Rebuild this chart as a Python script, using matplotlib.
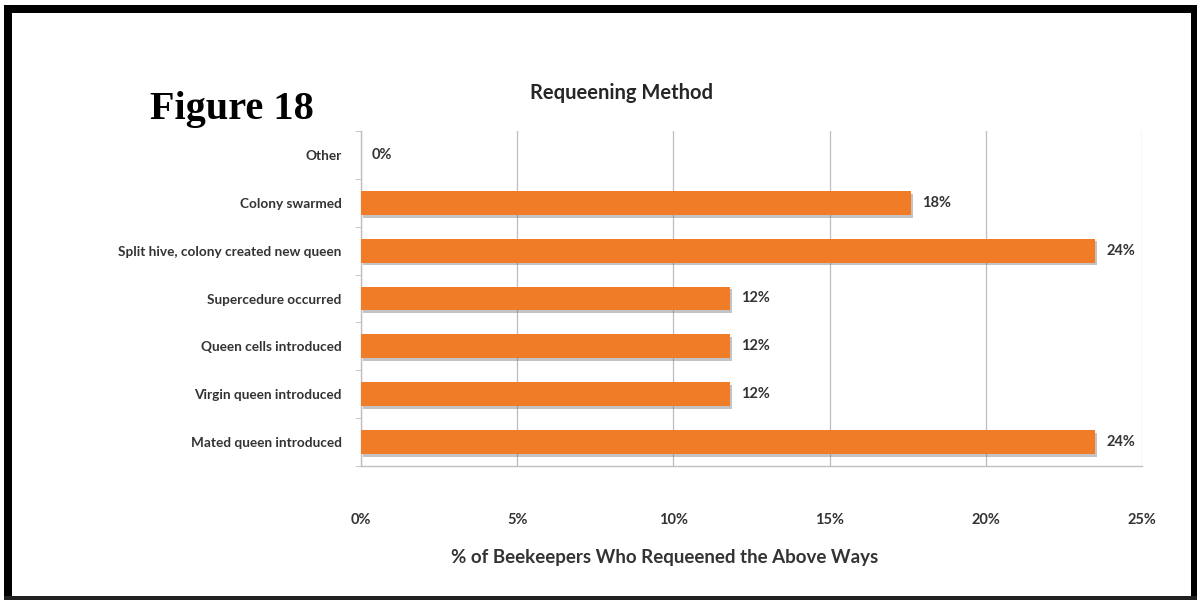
import matplotlib
matplotlib.use("Agg")
import matplotlib.pyplot as plt
from matplotlib.patches import Rectangle
from matplotlib import patheffects as pe
from matplotlib.ticker import FixedLocator, FuncFormatter

# Requeening methods, listed top to bottom
categories = [
    "Other",
    "Colony swarmed",
    "Split hive, colony created new queen",
    "Supercedure occurred",
    "Queen cells introduced",
    "Virgin queen introduced",
    "Mated queen introduced",
]
# Share of beekeepers (%) using each method
percent = [0.0, 17.6, 23.5, 11.8, 11.8, 11.8, 23.5]
x_ticks = [0, 5, 10, 15, 20, 25]

title = "Requeening Method"
figure_label = "Figure 18"
x_title = "% of Beekeepers Who Requeened the Above Ways"

W, H = 1197, 600
fig = plt.figure(figsize=(W / 100, H / 100), dpi=100)
fig.patch.set_facecolor("white")

# plot area in pixel terms
left_px, right_px, top_px, bottom_px = 361, 1142, 131, 466
ax = fig.add_axes([left_px / W, 1 - bottom_px / H,
                   (right_px - left_px) / W, (bottom_px - top_px) / H])

FONT = "Lato"
text_color = "#333333"
bar_color = "#F07C28"

n = len(categories)
ypos = list(range(n))
bars = ax.barh(ypos, percent, height=0.5, color=bar_color, zorder=3)
for b in bars:
    b.set_path_effects([pe.SimplePatchShadow(offset=(1.5, -2), shadow_rgbFace="#7a7a7a", alpha=0.45),
                        pe.Normal()])

ax.set_ylim(n - 0.5, -0.5)
ax.set_xlim(0, 25)

ax.set_yticks(ypos)
ax.set_yticklabels(categories, fontfamily=FONT, fontweight="bold", fontsize=9.8, color=text_color)
ax.yaxis.set_minor_locator(FixedLocator([i - 0.5 for i in range(n + 1)]))
ax.tick_params(axis="y", which="major", length=0, pad=14)
ax.tick_params(axis="y", which="minor", length=4, color="#BFBFBF", direction="out")

ax.xaxis.set_major_locator(FixedLocator(x_ticks))
ax.xaxis.set_major_formatter(FuncFormatter(lambda v, _: f"{v:.0f}%"))
ax.tick_params(axis="x", length=0, pad=34, labelsize=10.5, labelcolor=text_color)
for lab in ax.get_xticklabels():
    lab.set_fontfamily(FONT)
    lab.set_fontweight("bold")

ax.grid(axis="x", color="#BDBDBD", linewidth=0.9, zorder=0)
ax.set_axisbelow(True)

for side in ("top", "right"):
    ax.spines[side].set_visible(False)
ax.spines["left"].set_color("#BFBFBF")
ax.spines["bottom"].set_color("#BFBFBF")
ax.spines["left"].set_linewidth(1.0)
ax.spines["bottom"].set_linewidth(1.0)

# value labels at the bar ends
for y, v in zip(ypos, percent):
    ax.annotate(f"{v:.0f}%", xy=(v, y), xytext=(8, 0), textcoords="offset points",
                va="center", ha="left", fontfamily=FONT, fontweight="bold",
                fontsize=10.5, color=text_color, zorder=4)

# axis title centred under the whole chart block
fig.text(665 / W, 1 - 557 / H, x_title, ha="center", va="center",
         fontfamily=FONT, fontweight="bold", fontsize=13.5, color=text_color)

fig.text(622 / W, 1 - 93 / H, title, ha="center", va="center",
         fontfamily=FONT, fontweight="bold", fontsize=14.5, color="#262626")
fig.text(150 / W, 1 - 110 / H, figure_label, ha="left", va="center",
         fontfamily="Liberation Serif", fontweight="bold", fontsize=29, color="black")

# black frame around the page region
def px_rect(x0, y0, x1, y1, color="black"):
    fig.patches.append(Rectangle((x0 / W, 1 - y1 / H), (x1 - x0) / W, (y1 - y0) / H,
                                 transform=fig.transFigure, facecolor=color,
                                 edgecolor="none", zorder=10))

px_rect(4, 5, 12, 600)
px_rect(4, 5, 1197, 13)
px_rect(1191, 5, 1197, 600)
px_rect(4, 596, 1197, 600, color="#202020")

fig.savefig("out.png", dpi=100, facecolor="white")
